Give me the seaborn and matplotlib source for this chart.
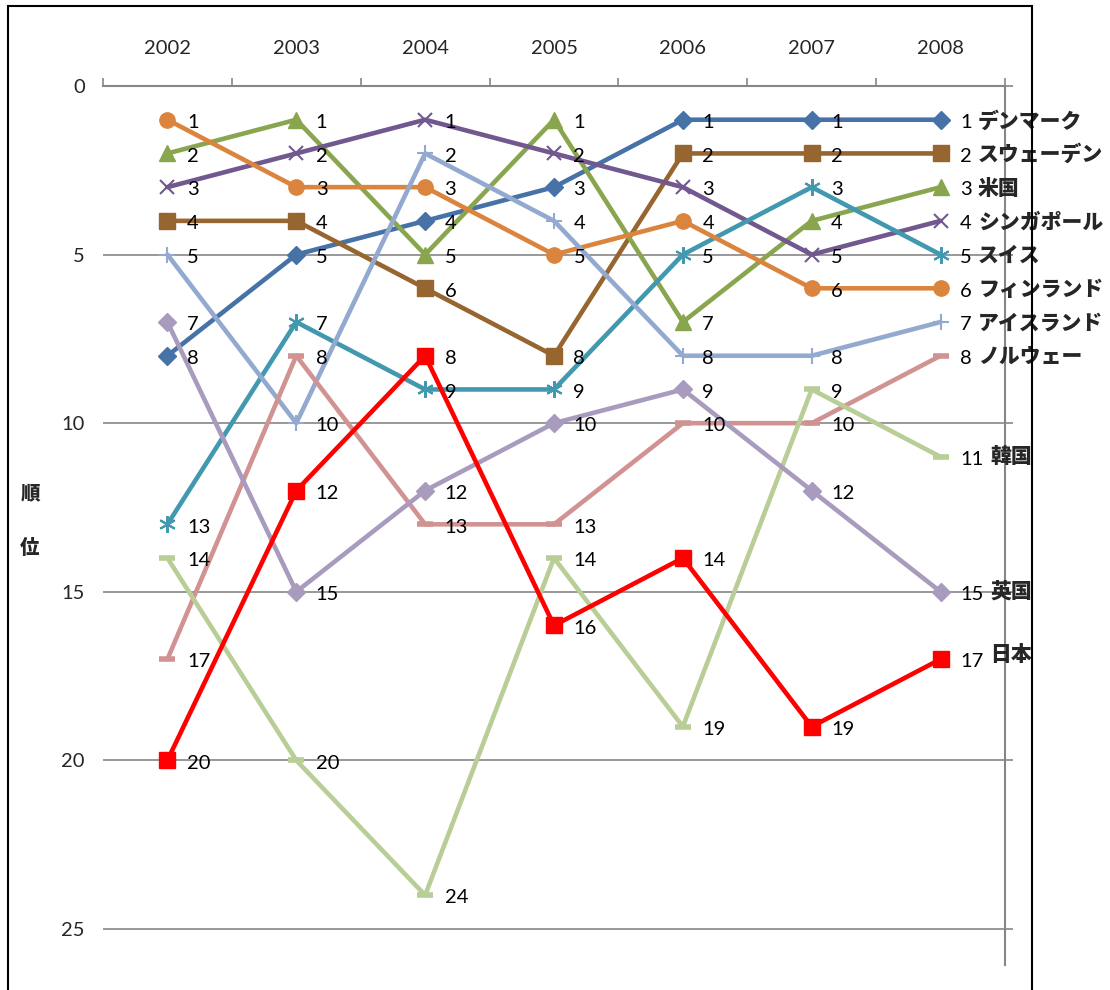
import matplotlib
matplotlib.use("Agg")
import matplotlib.pyplot as plt
import seaborn as sns
import pandas as pd
import numpy as np
from matplotlib.patches import Rectangle

# データ
years = ["2002", "2003", "2004", "2005", "2006", "2007", "2008"]
countries = ["デンマーク", "スウェーデン", "米国", "シンガポール", "スイス", "フィンランド",
             "アイスランド", "ノルウェー", "韓国", "英国", "日本"]
denmark = [8, 5, 4, 3, 1, 1, 1]
sweden = [4, 4, 6, 8, 2, 2, 2]
usa = [2, 1, 5, 1, 7, 4, 3]
singapore = [3, 2, 1, 2, 3, 5, 4]
switzerland = [13, 7, 9, 9, 5, 3, 5]
finland = [1, 3, 3, 5, 4, 6, 6]
iceland = [5, 10, 2, 4, 8, 8, 7]
norway = [17, 8, 13, 13, 10, 10, 8]
korea = [14, 20, 24, 14, 19, 9, 11]
uk = [7, 15, 12, 10, 9, 12, 15]
japan = [20, 12, 8, 16, 14, 19, 17]
ranks = [denmark, sweden, usa, singapore, switzerland, finland,
         iceland, norway, korea, uk, japan]

rows = []
for c, vals in zip(countries, ranks):
    for i, v in enumerate(vals):
        rows.append({"country": c, "pos": i, "rank": v})
df = pd.DataFrame(rows)

# 見た目
colors = ["#4672A8", "#97652F", "#89A54E", "#71588F", "#4198AF", "#DB843D",
          "#93A9CF", "#D19392", "#B9CD96", "#A99BBD", "#FF0000"]
markers = ["D", "s", "^", "x", (6, 2, 0), "o", "+", "_", "_", "D", "s"]
msizes = [9, 11, 12, 10, 12, 11, 12, 11, 11, 9, 11]
mews = [1, 1, 1, 1.5, 1.5, 1, 1.5, 4, 4, 1, 1]

sns.set_style("white")
plt.rcParams["font.family"] = ["Lato", "Noto Sans CJK JP", "DejaVu Sans"]
grey = "#868686"

fig = plt.figure(figsize=(11.1, 9.9), dpi=100)
ax = fig.add_axes([103 / 1110, 1 - 965 / 990, (1005 - 103) / 1110, (965 - 86) / 990])

for k, c in enumerate(countries):
    sub = df[df["country"] == c]
    sns.lineplot(data=sub, x="pos", y="rank", ax=ax, color=colors[k],
                 linewidth=3.3, marker=markers[k], markersize=msizes[k],
                 markeredgecolor=colors[k], markerfacecolor=colors[k],
                 markeredgewidth=mews[k], zorder=3 + k * 0.01)
    for i, v in enumerate(ranks[k]):
        ax.annotate(str(v), (i, v), xytext=(14, -2), textcoords="offset points",
                    ha="left", va="center", fontsize=14.5, color="black", zorder=6)
    last = ranks[k][-1]
    if k < 8:
        ax.annotate(c, (6, last), xytext=(27, -1), textcoords="offset points",
                    ha="left", va="center", fontsize=15, fontweight="heavy",
                    family=["Noto Sans CJK JP"], annotation_clip=False, zorder=6)
    else:
        dy = 3 if k == 10 else 0
        ax.annotate(c, (6, last), xytext=(36, dy), textcoords="offset points",
                    ha="left", va="center", fontsize=15, fontweight="heavy",
                    family=["Noto Sans CJK JP"], annotation_clip=False, zorder=6)

ax.set_xlim(-0.5, 6.5)
ax.set_ylim(26.07, 0)
ax.set_xlabel("")
ax.set_ylabel("")

ax.xaxis.tick_top()
ax.set_xticks(range(len(years)))
ax.set_xticklabels(years, fontsize=14.5)
ax.set_xticks(np.arange(-0.5, 7, 1), minor=True)
ax.tick_params(axis="x", which="major", length=0, pad=21)
ax.tick_params(axis="x", which="minor", top=True, bottom=False, length=6,
               direction="out", color=grey, width=1.2)

ax.set_yticks([0, 5, 10, 15, 20, 25])
ax.set_yticklabels(["0", "5", "10", "15", "20", "25"], fontsize=14.5)
ax.tick_params(axis="y", left=False, right=True, labelleft=True, labelright=False,
               length=6, direction="out", color=grey, width=1.2, pad=7)

ax.yaxis.grid(True, color=grey, linewidth=1.2)
ax.xaxis.grid(False)
for side in ["left", "bottom"]:
    ax.spines[side].set_visible(False)
for side in ["top", "right"]:
    ax.spines[side].set_color(grey)
    ax.spines[side].set_linewidth(1.5)

# 軸ラベル(縦書き)
fig.text(30 / 1110, 1 - 494 / 990, "順", ha="center", va="center", fontsize=14,
         fontweight="heavy", family=["Noto Sans CJK JP"])
fig.text(30 / 1110, 1 - 548 / 990, "位", ha="center", va="center", fontsize=14,
         fontweight="heavy", family=["Noto Sans CJK JP"])

# グラフエリアの枠
fig.patches.append(Rectangle((8 / 1110, -0.05), (1032 - 8) / 1110, 1 - 6 / 990 + 0.05,
                             transform=fig.transFigure, fill=False,
                             edgecolor="black", linewidth=1.5))

fig.savefig("out.png", dpi=100)
